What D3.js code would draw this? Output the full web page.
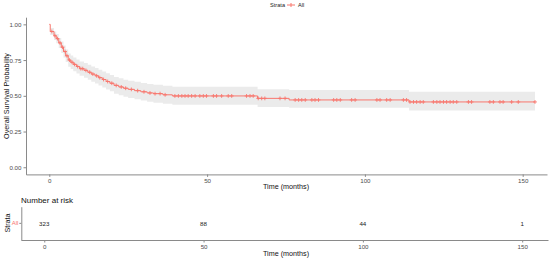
<!DOCTYPE html>
<html><head><meta charset="utf-8">
<script src="https://cdn.jsdelivr.net/npm/d3@7"></script>
<style>body{margin:0;background:#fff}svg{display:block;font-family:"Liberation Sans",Arial,sans-serif}</style>
</head><body><svg id="c" width="550" height="262"></svg>
<script>
// ---- data ----
const stepTimes = [0, 0.3, 1.5, 2.2, 3.0, 3.8, 4.5, 5.2, 6.0, 6.8, 7.6, 8.6, 9.6, 11, 12.2, 13.3, 14.5, 15.6, 16.8, 18, 19.2, 20.5, 22, 23.5, 25, 27, 29, 31, 33, 36, 39, 66, 76, 114];
const stepSurv  = [1.0, 0.95, 0.92, 0.90, 0.87, 0.84, 0.81, 0.78, 0.75, 0.735, 0.72, 0.705, 0.69, 0.678, 0.665, 0.652, 0.64, 0.627, 0.614, 0.60, 0.588, 0.573, 0.562, 0.553, 0.545, 0.536, 0.528, 0.52, 0.515, 0.507, 0.499, 0.482, 0.471, 0.457];
const stepLower = [1.0, 0.925, 0.89, 0.867, 0.835, 0.80, 0.768, 0.736, 0.704, 0.688, 0.672, 0.656, 0.64, 0.627, 0.613, 0.599, 0.586, 0.572, 0.558, 0.544, 0.531, 0.515, 0.503, 0.494, 0.485, 0.476, 0.467, 0.458, 0.452, 0.444, 0.437, 0.422, 0.417, 0.397];
const stepUpper = [1.0, 0.975, 0.95, 0.933, 0.905, 0.88, 0.852, 0.824, 0.796, 0.782, 0.768, 0.754, 0.74, 0.729, 0.717, 0.705, 0.694, 0.682, 0.67, 0.657, 0.646, 0.632, 0.622, 0.613, 0.606, 0.598, 0.59, 0.583, 0.578, 0.571, 0.563, 0.545, 0.54, 0.529];
const endTime = 153.9;
const censorTimes = [0.8, 1.8, 2.6, 3.4, 4.2, 5.0, 5.6, 6.4, 7.2, 8.0, 9.0, 10.0, 10.6, 11.6, 12.8, 13.8, 15.0, 16.0, 17.2, 18.5, 19.8, 21.2, 22.8, 24.2, 26.0, 28.0, 30.0,
  31.9, 33.5, 35.1, 36.7, 39.8, 40.9, 42.0, 43.0, 44.0, 45.1, 46.2, 47.7, 48.8, 49.8, 52.0, 53.0, 54.6, 56.7, 57.8, 62.5, 63.6, 64.6,
  66.2, 67.3, 68.3, 73.1, 74.7, 77.9, 79.0, 80.0, 81.1, 83.2, 84.2, 85.3, 90.1, 91.1, 92.2, 95.8, 96.9, 103.8, 104.8, 106.9, 108.0, 112.2, 113.2,
  114.3, 115.4, 116.4, 117.5, 118.5, 121.7, 122.8, 123.8, 124.9, 125.9, 127.0, 128.0, 129.1, 132.8, 133.8, 139.6, 140.7, 142.8, 143.8, 146.5, 148.6, 153.9];
const xTickValues = [0, 50, 100, 150];
const yTickValues = [0, 0.25, 0.5, 0.75, 1.0];
const riskTimes = [0, 50, 100, 150];
const riskCounts = [323, 88, 44, 1];
const strataName = "All";

// ---- drawing ----
const col = "#F8766D", axisCol = "#8a8a8a", tickTxt = "#4d4d4d";
const svg = d3.select("#c");

const x = d3.scaleLinear().domain([-7.38, 157.7]).range([26, 547]);
const y = d3.scaleLinear().domain([-0.05, 1.05]).range([174.4, 17.2]);

const steps = stepTimes.map((t, i) => ({t, s: stepSurv[i], lo: stepLower[i], hi: stepUpper[i]}));
const last = steps[steps.length - 1];
const stepsExt = steps.concat([{t: endTime, s: last.s, lo: last.lo, hi: last.hi}]);

svg.append("path").datum(stepsExt)
  .attr("fill", "#ebebeb")
  .attr("d", d3.area().curve(d3.curveStepAfter).x(d => x(d.t)).y0(d => y(d.lo)).y1(d => y(d.hi)));

svg.append("path").datum(stepsExt)
  .attr("fill", "none").attr("stroke", col).attr("stroke-width", 1)
  .attr("d", d3.line().curve(d3.curveStepAfter).x(d => x(d.t)).y(d => y(d.s)));

function survAt(t) {
  let s = 1;
  for (const d of steps) { if (d.t <= t) s = d.s; }
  return s;
}
const cg = svg.append("g").attr("stroke", col).attr("stroke-width", 0.9);
censorTimes.forEach(t => {
  const cx = x(t), cy = y(survAt(t));
  cg.append("line").attr("x1", cx - 1.9).attr("x2", cx + 1.9).attr("y1", cy).attr("y2", cy);
  cg.append("line").attr("x1", cx).attr("x2", cx).attr("y1", cy - 1.9).attr("y2", cy + 1.9);
});

function styleAxis(g) {
  g.select(".domain").attr("stroke", axisCol).attr("stroke-width", 1);
  g.selectAll(".tick line").attr("stroke", axisCol);
  g.selectAll(".tick text").attr("fill", tickTxt).attr("font-size", 6.2).attr("font-family", "Liberation Sans, Arial, sans-serif");
}

// main axes
const gx = svg.append("g").attr("transform", "translate(0,174.4)")
  .call(d3.axisBottom(x).tickValues(xTickValues).tickSize(2.5).tickSizeOuter(0).tickPadding(2));
styleAxis(gx);
const gy = svg.append("g").attr("transform", "translate(26,0)")
  .call(d3.axisLeft(y).tickValues(yTickValues).tickFormat(d3.format(".2f")).tickSize(2.5).tickSizeOuter(0).tickPadding(2));
styleAxis(gy);

svg.append("text").attr("x", 286).attr("y", 189).attr("text-anchor", "middle")
  .attr("font-size", 7.2).attr("fill", "#111").text("Time (months)");
svg.append("text").attr("transform", "translate(9,96) rotate(-90)").attr("text-anchor", "middle")
  .attr("font-size", 7.2).attr("fill", "#111").text("Overall Survival Probability");

// legend
const lg = svg.append("g");
lg.append("text").attr("x", 285).attr("y", 7).attr("text-anchor", "end").attr("font-size", 5.6).attr("fill", "#222").text("Strata");
lg.append("line").attr("x1", 287).attr("x2", 295).attr("y1", 5).attr("y2", 5).attr("stroke", col).attr("stroke-width", 1);
lg.append("line").attr("x1", 291).attr("x2", 291).attr("y1", 3).attr("y2", 7).attr("stroke", col).attr("stroke-width", 1);
lg.append("text").attr("x", 298).attr("y", 7).attr("font-size", 5.6).attr("fill", "#222").text(strataName);

// risk table
const xr = d3.scaleLinear().domain([-7.3, 158.1]).range([21, 548]);
const yr = d3.scaleBand().domain([strataName]).range([206.7, 240]);

svg.append("text").attr("x", 21).attr("y", 202.5).attr("font-size", 8).attr("fill", "#111").text("Number at risk");

const grx = svg.append("g").attr("transform", "translate(0,240)")
  .call(d3.axisBottom(xr).tickValues(xTickValues).tickSize(2.5).tickSizeOuter(0).tickPadding(2));
styleAxis(grx);
const gry = svg.append("g").attr("transform", "translate(21.3,0)")
  .call(d3.axisLeft(yr).tickSize(2).tickSizeOuter(0).tickPadding(1));
styleAxis(gry);
gry.selectAll(".tick text").attr("fill", col).attr("font-size", 6);

svg.append("g").selectAll("text").data(riskTimes).join("text")
  .attr("x", d => xr(d)).attr("y", yr(strataName) + yr.bandwidth() / 2).attr("dy", "0.35em")
  .attr("text-anchor", "middle").attr("font-size", 6.2).attr("fill", "#222")
  .text((d, i) => riskCounts[i]);

svg.append("text").attr("x", 286).attr("y", 256).attr("text-anchor", "middle")
  .attr("font-size", 7.2).attr("fill", "#111").text("Time (months)");
svg.append("text").attr("transform", "translate(9.5,223) rotate(-90)").attr("text-anchor", "middle")
  .attr("font-size", 7.2).attr("fill", "#111").text("Strata");
</script></body></html>
